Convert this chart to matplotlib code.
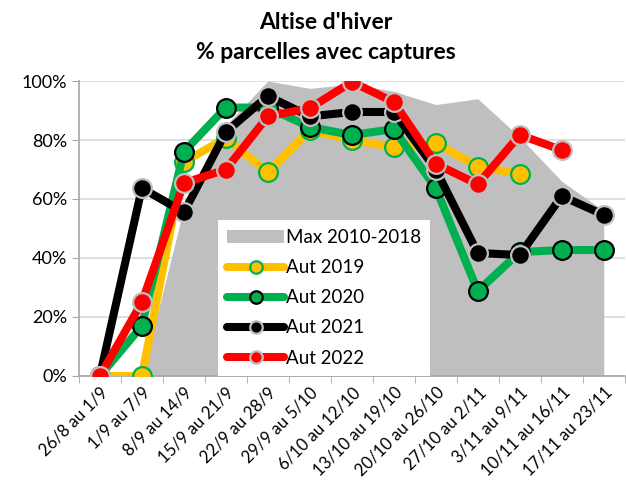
import numpy as np
import matplotlib.pyplot as plt
from matplotlib.patches import Patch
from matplotlib.lines import Line2D
from matplotlib.ticker import PercentFormatter

plt.rcParams['font.family'] = ['Lato', 'DejaVu Sans']

weeks = ["26/8 au 1/9", "1/9 au 7/9", "8/9 au 14/9", "15/9 au 21/9", "22/9 au 28/9",
         "29/9 au 5/10", "6/10 au 12/10", "13/10 au 19/10", "20/10 au 26/10",
         "27/10 au 2/11", "3/11 au 9/11", "10/11 au 16/11", "17/11 au 23/11"]

max_2010_2018 = [0, 0, 57, 85, 100, 97.5, 99, 96.5, 92, 94, 81, 66, 56]
aut_2019 = [0, 0, 72.5, 80.7, 69, 83.4, 80, 77.6, 79, 71, 68.5]
aut_2020 = [0, 17, 76, 91, 91, 84.4, 81.7, 83.7, 63.7, 28.8, 42, 42.7, 42.7]
aut_2021 = [0, 63.7, 55.5, 82.7, 94.9, 88, 89.5, 89.5, 70, 41.7, 41, 61, 54.6]
aut_2022 = [0, 25, 65.4, 70, 88, 90.8, 99.7, 92.9, 71.9, 65, 81.7, 76.6]

grey = '#BFBFBF'
# (label, values, line colour, marker face, marker edge)
series = [
    ("Aut 2019", aut_2019, '#FFC000', '#FFC000', '#00B050'),
    ("Aut 2020", aut_2020, '#00B050', '#00B050', '#000000'),
    ("Aut 2021", aut_2021, '#000000', '#000000', grey),
    ("Aut 2022", aut_2022, '#FF0000', '#FF0000', grey),
]

fig = plt.figure(figsize=(6.26, 4.97), dpi=100)
ax = fig.add_axes([0.126, 0.2435, 0.872, 0.5935])

x = np.arange(len(weeks))
ax.fill_between(x, max_2010_2018, 0, color=grey, lw=0, zorder=1)

for label, vals, lc, mfc, mec in series:
    ax.plot(np.arange(len(vals)), vals, color=lc, lw=5.8, marker='o', ms=13.5,
            mfc=mfc, mec=mec, mew=1.6, zorder=3, solid_capstyle='round',
            solid_joinstyle='round')

ax.set_xlim(-0.5, len(weeks) - 0.5)
ax.set_ylim(0, 100)
ax.yaxis.set_major_formatter(PercentFormatter(100, decimals=0))
ax.set_yticks(np.arange(0, 101, 20))
ax.grid(axis='y', color='#D9D9D9', lw=1.2, zorder=0)
ax.set_axisbelow(True)

ax.set_xticks(x)
ax.set_xticklabels(weeks, rotation=45, ha='right', rotation_mode='anchor', fontsize=12)
ax.set_xticks(np.arange(-0.5, len(weeks)), minor=True)
ax.tick_params(axis='x', which='major', length=0, pad=6)
ax.tick_params(axis='x', which='minor', length=5, color='#A6A6A6')
ax.tick_params(axis='y', length=5, color='#A6A6A6', labelsize=13)

for s in ['top', 'right']:
    ax.spines[s].set_visible(False)
for s in ['left', 'bottom']:
    ax.spines[s].set_color('#A6A6A6')
    ax.spines[s].set_linewidth(1.2)

fig.suptitle("Altise d'hiver\n% parcelles avec captures", x=0.521, y=0.976, va='top',
             fontsize=16.5, fontweight='bold', linespacing=1.55)

handles = [Patch(facecolor=grey, edgecolor='none')]
for label, vals, lc, mfc, mec in series:
    handles.append(Line2D([], [], color=lc, lw=5.8, marker='o', ms=9, mfc=mfc,
                          mec=mec, mew=1.6, solid_capstyle='round'))
labels = ["Max 2010-2018"] + [s[0] for s in series]
leg = ax.legend(handles, labels, loc='lower left', bbox_to_anchor=(0.255, 0.0),
                fontsize=13.5, frameon=True, fancybox=False, framealpha=1,
                facecolor='white', edgecolor='none', handlelength=3.0,
                handletextpad=0.1, labelspacing=0.7, borderpad=0.5, borderaxespad=0)
leg.set_zorder(5)

plt.savefig("out.png", dpi=100)
